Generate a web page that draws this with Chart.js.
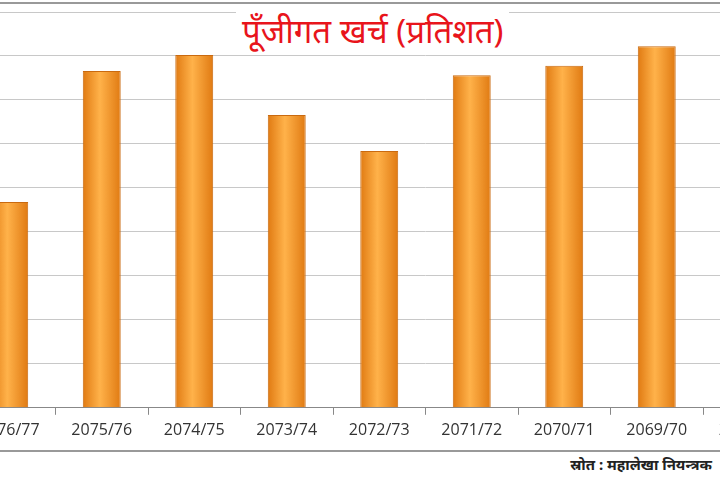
<!DOCTYPE html>
<html>
<head>
<meta charset="utf-8">
<script src="https://cdn.jsdelivr.net/npm/chart.js@4.4.0/dist/chart.umd.min.js"></script>
<style>
  body { margin: 0; background: #fff; overflow: hidden; }
  #wrap { position: absolute; left: -37px; top: 0; width: 925px; height: 446px; }
  #frame1 { position: absolute; left: 0; top: 2px; width: 720px; border-top: 2px solid #999; }
  #frame2 { position: absolute; left: 0; top: 450px; width: 720px; border-top: 2px solid #999; }
  #title { position: absolute; left: 236px; top: 8px; padding: 0 6px; background: #fff;
           color: #e8141b; font: 33px "Noto Sans", "Noto Sans Devanagari", sans-serif; }
  #src { position: absolute; right: 8px; top: 454px; color: #222;
         font: bold 15px "Noto Sans", "Noto Sans Devanagari", sans-serif; }
</style>
</head>
<body>
<div id="wrap"><canvas id="c"></canvas></div>
<div id="frame1"></div>
<div id="frame2"></div>
<div id="title">पूँजीगत खर्च (प्रतिशत)</div>
<div id="src">स्रोत : महालेखा नियन्त्रक</div>
<script>
var years = ["2076/77", "2075/76", "2074/75", "2073/74", "2072/73", "2071/72", "2070/71", "2069/70", "2068/69", "2067/68"];
var values = [23.4, 38.3, 40.1, 33.3, 29.2, 37.8, 38.9, 41.1, 0, 0];

function barFill(c) {
  var el = c.chart.getDatasetMeta(0).data[c.dataIndex];
  if (!el || !el.width) return "#f39323";
  var g = c.chart.ctx.createLinearGradient(el.x - el.width / 2, 0, el.x + el.width / 2, 0);
  g.addColorStop(0, "#e07a12");
  g.addColorStop(0.45, "#ffb24a");
  g.addColorStop(1, "#e07a12");
  return g;
}

var chart = new Chart(document.getElementById("c").getContext("2d"), {
  type: "bar",
  data: {
    labels: years,
    datasets: [{
      data: values,
      backgroundColor: barFill,
      borderColor: "#c96a10",
      borderWidth: 1,
      barPercentage: 0.41,
      categoryPercentage: 1
    }]
  },
  options: {
    responsive: true,
    maintainAspectRatio: false,
    animation: false,
    layout: { padding: { top: 12, left: 0, right: 0, bottom: 0 } },
    plugins: { legend: { display: false }, tooltip: { enabled: false } },
    scales: {
      x: {
        grid: { display: true, drawOnChartArea: false, color: "#888", tickLength: 7, offset: true },
        border: { color: "#888" },
        ticks: { color: "#333", font: { family: "Open Sans", size: 16 }, padding: 6 }
      },
      y: {
        display: true,
        min: 0, max: 45,
        ticks: { stepSize: 5, display: false },
        grid: { color: "#c8c8c8", drawTicks: false },
        border: { display: false }
      }
    }
  }
});
chart.update();
</script>
</body>
</html>
